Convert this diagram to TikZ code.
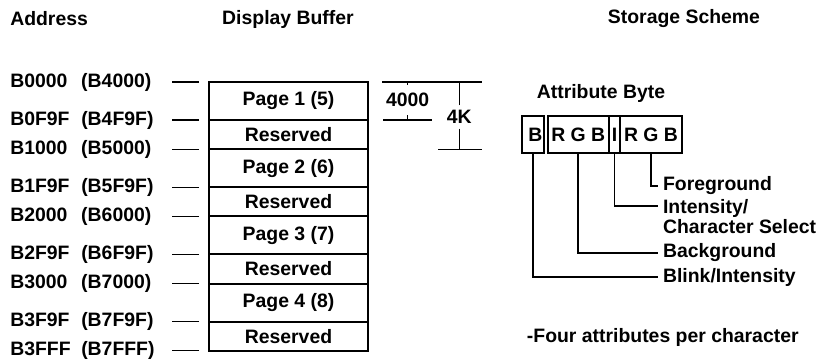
\documentclass[tikz,border=0pt]{standalone}
\usepackage{fontspec}
\setmainfont{Liberation Sans}
\usetikzlibrary{positioning}

\begin{document}
\begin{tikzpicture}[font=\bfseries\fontsize{13.8}{14.2}\selectfont]
  % Display buffer memory map on the left, attribute byte layout on the right.
  \fill[white] (0,0) rectangle (20.625,8.925);

  \tikzset{page/.style={draw,line width=1.3pt,minimum width=3.975cm,minimum height=0.95cm,inner sep=0pt,outer sep=0pt},
            reserved/.style={page,minimum height=0.73cm},
            addr/.style={anchor=west,inner sep=0pt},
            tick/.style={line width=0.9pt},
            bitcell/.style={draw,line width=1.3pt,minimum height=0.925cm,inner sep=0pt,outer sep=0pt},
            lead/.style={line width=1.3pt},
            meaning/.style={anchor=west,align=left,inner xsep=0.12cm,inner ysep=0pt}}

  \node[addr] (addrhead) at (0.25,8.45) {Address};
  \node (bufhead) at (7.2,8.45) {Display Buffer};
  \node (storehead) at (17.1,8.45) {Storage Scheme};

  \node[page,anchor=north west] (page1) at (5.225,6.875) {Page 1 (5)};
  \node[reserved,below=0pt of page1] (res1) {Reserved};
  \node[page,below=0pt of res1] (page2) {Page 2 (6)};
  \node[reserved,below=0pt of page2] (res2) {Reserved};
  \node[page,below=0pt of res2] (page3) {Page 3 (7)};
  \node[reserved,below=0pt of page3] (res3) {Reserved};
  \node[page,below=0pt of res3] (page4) {Page 4 (8)};
  \node[reserved,below=0pt of page4] (res4) {Reserved};

  \node[addr] (a0) at (page1.north west -| addrhead.west) {\makebox[1.775cm][l]{B0000}(B4000)};
  \node[addr] (a1) at (page1.south west -| addrhead.west) {\makebox[1.775cm][l]{B0F9F}(B4F9F)};
  \node[addr] (a2) at (page2.north west -| addrhead.west) {\makebox[1.775cm][l]{B1000}(B5000)};
  \node[addr] (a3) at (page2.south west -| addrhead.west) {\makebox[1.775cm][l]{B1F9F}(B5F9F)};
  \node[addr] (a4) at (page3.north west -| addrhead.west) {\makebox[1.775cm][l]{B2000}(B6000)};
  \node[addr] (a5) at (page3.south west -| addrhead.west) {\makebox[1.775cm][l]{B2F9F}(B6F9F)};
  \node[addr] (a6) at (page4.north west -| addrhead.west) {\makebox[1.775cm][l]{B3000}(B7000)};
  \node[addr] (a7) at (page4.south west -| addrhead.west) {\makebox[1.775cm][l]{B3F9F}(B7F9F)};
  \node[addr] (a8) at (res4.south west -| addrhead.west) {\makebox[1.775cm][l]{B3FFF}(B7FFF)};

  \draw[tick] ([xshift=-0.25cm]page1.north west) -- ++(-0.675,0);
  \draw[tick] ([xshift=-0.25cm]page1.south west) -- ++(-0.675,0);
  \draw[tick] ([xshift=-0.25cm]page2.north west) -- ++(-0.675,0);
  \draw[tick] ([xshift=-0.25cm]page2.south west) -- ++(-0.675,0);
  \draw[tick] ([xshift=-0.25cm]page3.north west) -- ++(-0.675,0);
  \draw[tick] ([xshift=-0.25cm]page3.south west) -- ++(-0.675,0);
  \draw[tick] ([xshift=-0.25cm]page4.north west) -- ++(-0.675,0);
  \draw[tick] ([xshift=-0.25cm]page4.south west) -- ++(-0.675,0);
  \draw[tick] ([xshift=-0.25cm]res4.south west) -- ++(-0.675,0);

  % page size and page+reserved size
  \node (pagesize) at (10.19,6.425) {4000};
  \node (span) at (11.48,6.0) {4K};
  \coordinate (dimtop) at ([xshift=0.35cm]page1.north east);
  \draw[tick] (dimtop) -- ++(2.5,0);
  \draw[tick] ([xshift=0.375cm]page1.south east) -- ++(1.225,0);
  \draw[tick] (pagesize.north |- dimtop) -- ++(0,-0.08);
  \draw[tick] (pagesize.south |- page1.south east) -- ++(0,0.12);
  \draw[tick] (span.north) -- (span.north |- dimtop);
  \draw[tick] (span.south) -- (span.south |- res1.south east) coordinate (spanbot);
  \draw[tick] ([xshift=-0.53cm]spanbot) -- ([xshift=0.57cm]spanbot);

  \node (attrhead) at (15.025,6.6) {Attribute Byte};
  \node[bitcell,minimum width=0.55cm,text width=0.47cm,align=right,anchor=north west] (bcell) at (13.05,6.025) {B};
  \node[bitcell,minimum width=1.535cm,right=0.09cm of bcell] (bgcell) {R G B};
  \node[bitcell,minimum width=0.275cm,right=0pt of bgcell] (icell) {I};
  \node[bitcell,minimum width=1.55cm,right=0pt of icell] (fgcell) {R G B};

  \node[meaning] (fglbl) at (16.45,4.275) {Foreground};
  \node[meaning] (intlbl) at (16.45,3.52) {Intensity/\\Character Select};
  \node[meaning] (bglbl) at (16.45,2.6) {Background};
  \node[meaning] (blinklbl) at (16.45,2.0) {Blink/Intensity};

  \draw[lead] (fgcell.south) |- (fglbl.west);
  \draw[lead] (icell.south) |- ([yshift=0.25cm]intlbl.west);
  \draw[lead] (bgcell.south) |- (bglbl.west);
  \draw[lead] (bcell.south) |- (blinklbl.west);

  \node[anchor=west] (note) at (13.05,0.5) {-Four attributes per character};
\end{tikzpicture}
\end{document}
